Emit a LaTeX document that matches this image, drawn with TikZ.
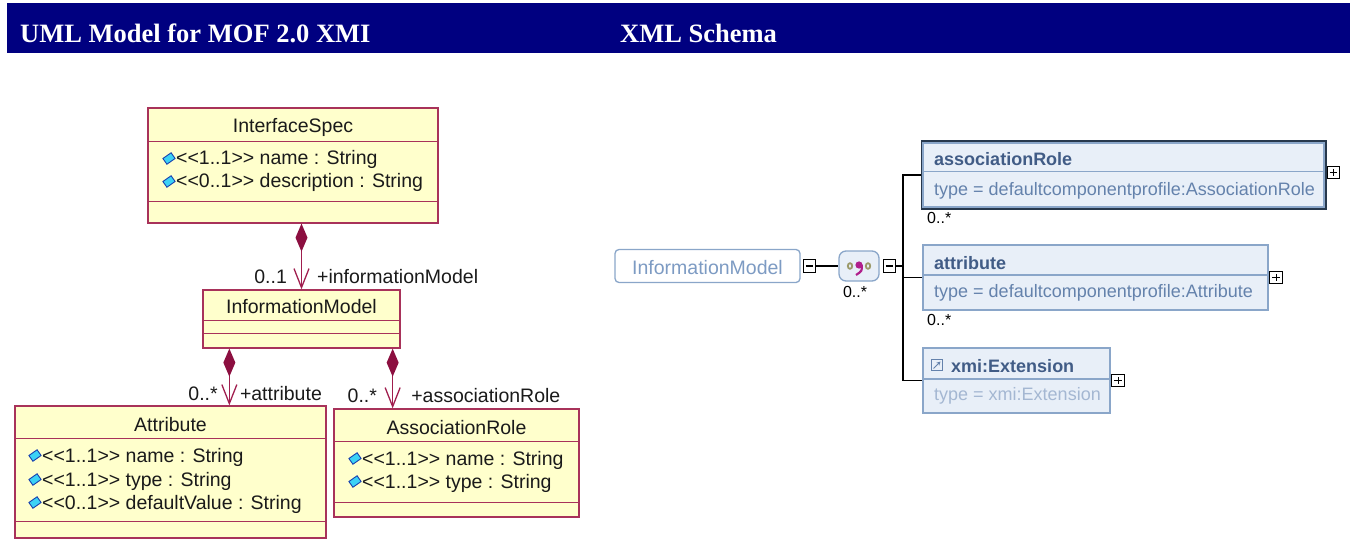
\documentclass[tikz,border=0pt]{standalone}
\usepackage{fontspec}
\setmainfont{Liberation Sans}
\newfontfamily\hdrfont{Liberation Serif}
\usepackage{tikz}
\usetikzlibrary{positioning,arrows.meta,calc}
\definecolor{HdrNavy}{HTML}{000080}
\definecolor{UMLFill}{HTML}{FFFFCC}
\definecolor{UMLLine}{HTML}{A8325A}
\definecolor{UMLLink}{HTML}{A01E4E}
\definecolor{UMLDark}{HTML}{8C0F40}
\definecolor{UMLText}{HTML}{1A1A1A}
\definecolor{IconCyan}{HTML}{3CD2F5}
\definecolor{IconBlue}{HTML}{1840B0}
\definecolor{XSDFill}{HTML}{E8EFF8}
\definecolor{XSDLine}{HTML}{8AA6C9}
\definecolor{XSDDark}{HTML}{27384C}
\definecolor{XSDTitle}{HTML}{415C86}
\definecolor{XSDType}{HTML}{6482AC}
\definecolor{XSDPale}{HTML}{A4B7D2}
\definecolor{XSDName}{HTML}{7D9BC3}
\definecolor{SeqOlive}{HTML}{9C9A6A}
\definecolor{SeqMagenta}{HTML}{B0208C}
\tikzset{
  hdrtext/.style={font=\hdrfont\bfseries\fontsize{26.5}{30}\selectfont,text=white,inner sep=0pt,anchor=base west},
  umlclass/.style={rectangle,draw=UMLLine,fill=UMLFill,line width=1.3pt,inner sep=0pt},
  umlsep/.style={draw=UMLLine,line width=1.3pt},
  umlname/.style={font=\fontsize{19.5}{22}\selectfont,text=UMLText,inner sep=0pt,anchor=base},
  umlattr/.style={umlname,anchor=base west},
  umlicon/.style={rectangle,draw=IconBlue,fill=IconCyan,line width=0.9pt,
    minimum width=10pt,minimum height=7pt,inner sep=0pt,rotate=35},
  umlcomp/.style={{Diamond[length=28pt,width=12pt,color=UMLDark,fill=UMLDark]}-{Straight Barb[length=19pt,width=15pt]},
    draw=UMLLink,line width=1.3pt},
  umlrole/.style={font=\fontsize{19.5}{22}\selectfont,text=UMLText,inner sep=0pt},
  xsdbox/.style={rectangle,draw=XSDLine,fill=XSDFill,line width=2.5pt,inner sep=0pt},
  xsdsep/.style={draw=XSDLine,line width=1.5pt},
  xsdtitle/.style={font=\fontsize{18}{21}\selectfont\bfseries,text=XSDTitle,inner sep=0pt,anchor=base west},
  xsdtype/.style={font=\fontsize{18}{21}\selectfont,text=XSDType,inner sep=0pt,anchor=base west},
  xsdcard/.style={font=\fontsize{16}{18}\selectfont,text=black,inner sep=0pt,anchor=base west},
  xsdline/.style={draw=black,line width=1.3pt},
  xsdtoggle/.style={rectangle,draw=black,fill=white,line width=1.2pt,minimum size=12.5pt,inner sep=0pt},
  xsdminus/.style={xsdtoggle,path picture={
    \draw[line width=1.2pt] ([xshift=2.5pt]path picture bounding box.west) -- ([xshift=-2.5pt]path picture bounding box.east);}},
  xsdplus/.style={xsdtoggle,path picture={
    \draw[line width=1.2pt] ([xshift=2.5pt]path picture bounding box.west) -- ([xshift=-2.5pt]path picture bounding box.east);
    \draw[line width=1.2pt] ([yshift=-2.5pt]path picture bounding box.north) -- ([yshift=2.5pt]path picture bounding box.south);}},
}
\begin{document}
\begin{tikzpicture}[x=1pt,y=-1pt]
  \useasboundingbox (0,0) rectangle (1356,540);

  % header bar
  \node[fill=HdrNavy,minimum width=1343pt,minimum height=50pt,inner sep=0pt,anchor=north west] (hdrbar) at (7,3) {};
  \node[hdrtext] (hdrleft) at (20,43) {UML Model for MOF 2.0 XMI};
  \node[hdrtext] (hdrright) at (620,43) {XML Schema};

  % UML classes
  \node[umlclass,minimum width=290pt,minimum height=115pt] (ispec) at (293,165.5) {};
  \draw[umlsep] ([yshift=-34pt]ispec.north west) -- ([yshift=-34pt]ispec.north east);
  \draw[umlsep] ([yshift=22pt]ispec.south west) -- ([yshift=22pt]ispec.south east);
  \node[umlname] (ispecname) at (293,133) {InterfaceSpec};
  \node[umlicon] (ispecic1) at (169,158.5) {};
  \node[umlattr] (ispecat1) at (176,165) {<{}<1..1>{}> name : String};
  \node[umlicon] (ispecic2) at (169,181.5) {};
  \node[umlattr] (ispecat2) at (176,188) {<{}<0..1>{}> description : String};

  \node[umlclass,minimum width=197pt,minimum height=58pt] (imodel) at (301.5,319) {};
  \draw[umlsep] ([yshift=-31pt]imodel.north west) -- ([yshift=-31pt]imodel.north east);
  \draw[umlsep] ([yshift=15pt]imodel.south west) -- ([yshift=15pt]imodel.south east);
  \node[umlname] (imodelname) at (301.5,313) {InformationModel};

  \node[umlclass,minimum width=311pt,minimum height=132pt] (attr) at (170.5,472) {};
  \draw[umlsep] ([yshift=-33pt]attr.north west) -- ([yshift=-33pt]attr.north east);
  \draw[umlsep] ([yshift=17pt]attr.south west) -- ([yshift=17pt]attr.south east);
  \node[umlname] (attrname) at (170.5,431) {Attribute};
  \node[umlicon] (attric1) at (35,455.5) {};
  \node[umlattr] (attrat1) at (42,462) {<{}<1..1>{}> name : String};
  \node[umlicon] (attric2) at (35,479.5) {};
  \node[umlattr] (attrat2) at (42,486) {<{}<1..1>{}> type : String};
  \node[umlicon] (attric3) at (35,502.5) {};
  \node[umlattr] (attrat3) at (42,509) {<{}<0..1>{}> defaultValue : String};

  \node[umlclass,minimum width=245pt,minimum height=108pt] (arole) at (456.5,463) {};
  \draw[umlsep] ([yshift=-33pt]arole.north west) -- ([yshift=-33pt]arole.north east);
  \draw[umlsep] ([yshift=15pt]arole.south west) -- ([yshift=15pt]arole.south east);
  \node[umlname] (arolename) at (456.5,434) {AssociationRole};
  \node[umlicon] (aroleic1) at (355,458.5) {};
  \node[umlattr] (aroleat1) at (362,465) {<{}<1..1>{}> name : String};
  \node[umlicon] (aroleic2) at (355,481.5) {};
  \node[umlattr] (aroleat2) at (362,488) {<{}<1..1>{}> type : String};

  % compositions
  \draw[umlcomp] (imodel.north |- ispec.south) -- (imodel.north)
    node[umlrole,pos=1,anchor=base east,xshift=-14pt,yshift=6pt] (lbl01) {0..1}
    node[umlrole,pos=1,anchor=base west,xshift=15pt,yshift=6pt] (lblim) {+informationModel};
  \draw[umlcomp] ([xshift=27pt]imodel.south west) -- ([xshift=27pt]imodel.south west |- attr.north)
    node[umlrole,pos=1,anchor=base east,xshift=-11pt,yshift=5pt] (lbl0a) {0..*}
    node[umlrole,pos=1,anchor=base west,xshift=10pt,yshift=5pt] (lblat) {+attribute};
  \draw[umlcomp] ([xshift=-8pt]imodel.south east) -- ([xshift=-8pt]imodel.south east |- arole.north)
    node[umlrole,pos=1,anchor=base east,xshift=-15pt,yshift=6pt] (lbl0r) {0..*}
    node[umlrole,pos=1,anchor=base west,xshift=18pt,yshift=6pt] (lblar) {+associationRole};

  % XML schema
  \node[rectangle,rounded corners=4pt,draw=XSDLine,fill=white,line width=1.3pt,
    minimum width=185pt,minimum height=33pt,inner sep=0pt] (ximodel) at (707.5,266) {};
  \node[font=\fontsize{19.5}{22}\selectfont,text=XSDName,inner sep=0pt,anchor=base] (ximname) at (707.5,274) {InformationModel};
  \node[xsdminus,right=2pt of ximodel] (immin) {};
  \node[rectangle,rounded corners=7pt,draw=XSDLine,fill=XSDFill,line width=1.3pt,
    minimum width=40pt,minimum height=30pt,inner sep=0pt,right=22pt of immin] (xseq) {};
  \begin{scope}[shift={(xseq.center)}]
    \draw[SeqOlive,line width=1.8pt] (-9,0) ellipse (2.2pt and 2.8pt);
    \draw[SeqOlive,line width=1.8pt] (9,0) ellipse (2.2pt and 2.8pt);
    \fill[SeqMagenta] (0,-1) circle (3.6pt);
    \draw[SeqMagenta,line width=2.2pt] (2.8,-1) .. controls (3,5) .. (-3,9);
  \end{scope}
  \node[xsdcard,anchor=base] (seqcard) at (855,297) {0..*};
  \node[xsdminus,right=3pt of xseq] (seqmin) {};
  \coordinate (fork) at (903,266);

  \node[xsdbox,draw=XSDDark,line width=3pt,minimum width=403pt,minimum height=66pt] (xar) at (1123.5,175) {};
  \draw[XSDLine,line width=1.5pt] ([xshift=2.5pt,yshift=-2.5pt]xar.north west) rectangle ([xshift=-2.5pt,yshift=2.5pt]xar.south east);
  \draw[xsdsep] ([xshift=2pt,yshift=-31pt]xar.north west) -- ([xshift=-2pt,yshift=-31pt]xar.north east);
  \node[xsdtitle] (xarname) at (934,166) {associationRole};
  \node[xsdtype] (xartype) at (934,195) {type = defaultcomponentprofile:AssociationRole};
  \node[xsdplus,right=0pt of xar,yshift=2.5pt] (xarplus) {};
  \node[xsdcard] (xarcard) at (927,223) {0..*};

  \node[xsdbox,minimum width=345pt,minimum height=65pt] (xat) at (1095.5,277.5) {};
  \draw[xsdsep] ([yshift=-31pt]xat.north west) -- ([yshift=-31pt]xat.north east);
  \node[xsdtitle] (xatname) at (934,269) {attribute};
  \node[xsdtype] (xattype) at (934,297) {type = defaultcomponentprofile:Attribute};
  \node[xsdplus,right=0pt of xat] (xatplus) {};
  \node[xsdcard] (xatcard) at (927,325) {0..*};

  \node[xsdbox,minimum width=187pt,minimum height=65pt] (xext) at (1016.5,380.5) {};
  \draw[xsdsep] ([yshift=-32pt]xext.north west) -- ([yshift=-32pt]xext.north east);
  \node[rectangle,draw=XSDType,line width=1pt,minimum size=11pt,inner sep=0pt,
    path picture={\draw[XSDType,line width=1pt,-{Stealth[length=4pt,width=4pt]}]
      ([xshift=2pt,yshift=2pt]path picture bounding box.south west) -- ([xshift=-2pt,yshift=-2pt]path picture bounding box.north east);}]
    (exticon) at (937,365) {};
  \node[xsdtitle] (xextname) at (951,372) {xmi:Extension};
  \node[xsdtype,text=XSDPale] (xexttype) at (934,400) {type = xmi:Extension};
  \node[xsdplus,right=0pt of xext] (xextplus) {};

  % tree lines
  \draw[xsdline] (immin.east) -- (xseq.west);
  \draw[xsdline] (seqmin.east) -- (fork);
  \draw[xsdline] (xar.west) -| (fork) |- (xext.west);
  \draw[xsdline] (fork |- xat.west) -- (xat.west);
\end{tikzpicture}
\end{document}
